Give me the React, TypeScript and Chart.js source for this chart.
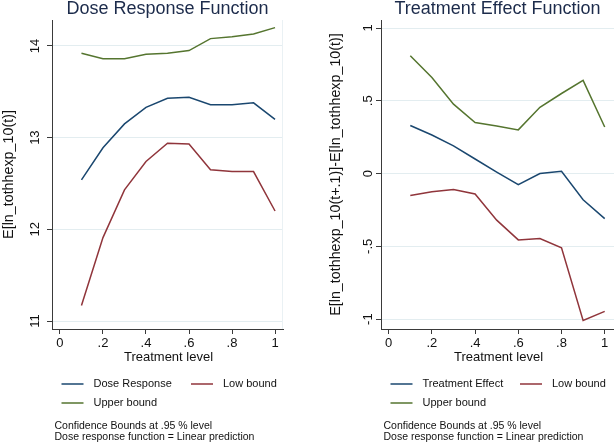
import React, { useEffect, useRef } from "react";
import { Chart, registerables } from "chart.js";

Chart.register(...registerables);

// ---- data ----
const treatmentLevels = [0.1, 0.2, 0.3, 0.4, 0.5, 0.6, 0.7, 0.8, 0.9, 1.0];

const doseResponse = [12.54, 12.89, 13.15, 13.33, 13.43, 13.44, 13.36, 13.36, 13.38, 13.2];
const doseLowBound = [11.17, 11.91, 12.43, 12.74, 12.94, 12.93, 12.65, 12.63, 12.63, 12.2];
const doseUpperBound = [13.92, 13.86, 13.86, 13.91, 13.92, 13.95, 14.08, 14.1, 14.13, 14.2];

const treatmentEffect = [0.33, 0.265, 0.19, 0.1, 0.01, -0.077, 0.0, 0.016, -0.18, -0.31];
const effectLowBound = [-0.15, -0.125, -0.11, -0.14, -0.32, -0.456, -0.447, -0.51, -1.01, -0.947];
const effectUpperBound = [0.81, 0.66, 0.477, 0.35, 0.327, 0.3, 0.455, 0.55, 0.64, 0.32];

const xTickValues = [0, 0.2, 0.4, 0.6, 0.8, 1];
const xTickLabels = ["0", ".2", ".4", ".6", ".8", "1"];
const doseYTicks = [11, 12, 13, 14];
const doseYTickLabels = ["11", "12", "13", "14"];
const effectYTicks = [-1, -0.5, 0, 0.5, 1];
const effectYTickLabels = ["-1", "-.5", "0", ".5", "1"];

const notes = ["Confidence Bounds at .95 % level", "Dose response function = Linear prediction"];

const NAVY = "#1a476f";
const MAROON = "#90353b";
const GREEN = "#55752f";
const GRID = "#e3edf0";
const AXIS = "#3a3a3a";
const FONT = "'Liberation Sans', Arial, sans-serif";

type PanelProps = {
  title: string;
  yTitle: string;
  mainLabel: string;
  main: number[];
  low: number[];
  upper: number[];
  yTicks: number[];
  yTickLabels: string[];
  xMin: number;
  xMax: number;
  yMin: number;
  yMax: number;
  plotLeft: number;
  plotRight: number;
  yTitleX: number;
  yTickLabelX: number;
  rightBorder: boolean;
};

const W = 307;
const H = 443;
const PLOT_TOP = 20;
const PLOT_BOTTOM = 329;

function Panel(p: PanelProps) {
  const ref = useRef<HTMLCanvasElement | null>(null);
  useEffect(() => {
    if (!ref.current) return;
    const mk = (vals: number[]) => treatmentLevels.map((x, i) => ({ x, y: vals[i] }));
    const extras = {
      id: "extras",
      afterDraw(chart: any) {
        const ctx = chart.ctx as CanvasRenderingContext2D;
        const ca = chart.chartArea;
        const ys = chart.scales.y;
        ctx.save();
        // right border of plot region
        if (p.rightBorder) {
          ctx.strokeStyle = "#eaf1f4";
          ctx.lineWidth = 1;
          ctx.beginPath();
          ctx.moveTo(Math.round(ca.right) - 0.5, ca.top);
          ctx.lineTo(Math.round(ca.right) - 0.5, ca.bottom);
          ctx.stroke();
        }
        // title
        ctx.fillStyle = "#1c2b4b";
        ctx.font = `18px ${FONT}`;
        ctx.textAlign = "center";
        ctx.textBaseline = "middle";
        ctx.fillText(p.title, (ca.left + ca.right) / 2, 9);
        // y tick labels (rotated)
        ctx.fillStyle = "#111";
        ctx.font = `13px ${FONT}`;
        p.yTicks.forEach((v, i) => {
          const y = ys.getPixelForValue(v);
          ctx.save();
          ctx.translate(p.yTickLabelX, y);
          ctx.rotate(-Math.PI / 2);
          ctx.textAlign = "center";
          ctx.textBaseline = "middle";
          ctx.fillText(p.yTickLabels[i], 0, 0);
          ctx.restore();
        });
        // y title
        ctx.save();
        ctx.font = `14.3px ${FONT}`;
        ctx.translate(p.yTitleX, (ca.top + ca.bottom) / 2);
        ctx.rotate(-Math.PI / 2);
        ctx.textAlign = "center";
        ctx.textBaseline = "middle";
        ctx.fillText(p.yTitle, 0, 0);
        ctx.restore();
        // x title
        ctx.font = `13px ${FONT}`;
        ctx.textAlign = "center";
        ctx.textBaseline = "middle";
        ctx.fillText("Treatment level", (ca.left + ca.right) / 2 + 1, 357);
        // legend
        const items = [
          { label: p.mainLabel, color: NAVY, col: 0, row: 0 },
          { label: "Low bound", color: MAROON, col: 1, row: 0 },
          { label: "Upper bound", color: GREEN, col: 0, row: 1 },
        ];
        ctx.font = `11px ${FONT}`;
        ctx.textAlign = "left";
        items.forEach((it) => {
          const x0 = ca.left + (it.col === 0 ? 9.5 : 139);
          const y = it.row === 0 ? 384 : 403;
          ctx.strokeStyle = it.color;
          ctx.lineWidth = 1.5;
          ctx.beginPath();
          ctx.moveTo(x0, y);
          ctx.lineTo(x0 + 22, y);
          ctx.stroke();
          ctx.fillStyle = "#111";
          ctx.fillText(it.label, x0 + 32, y);
        });
        // notes
        ctx.font = `10.5px ${FONT}`;
        ctx.fillStyle = "#111";
        notes.forEach((n, i) => {
          ctx.fillText(n, ca.left + 2.5, 426.5 + i * 10.7);
        });
        ctx.restore();
      },
    };
    const chart = new Chart(ref.current, {
      type: "line",
      data: {
        datasets: [
          { label: p.mainLabel, data: mk(p.main), borderColor: NAVY },
          { label: "Low bound", data: mk(p.low), borderColor: MAROON },
          { label: "Upper bound", data: mk(p.upper), borderColor: GREEN },
        ].map((d) => ({ ...d, borderWidth: 1.5, pointRadius: 0, tension: 0, fill: false })),
      },
      options: {
        responsive: false,
        maintainAspectRatio: false,
        animation: false,
        layout: { padding: { left: 0, right: W - p.plotRight, top: PLOT_TOP, bottom: 0 } },
        plugins: {
          legend: { display: false },
          tooltip: { enabled: false },
          title: { display: false },
        },
        scales: {
          x: {
            type: "linear",
            min: p.xMin,
            max: p.xMax,
            afterBuildTicks: (s: any) => {
              s.ticks = xTickValues.map((v) => ({ value: v }));
            },
            afterFit: (s: any) => {
              s.height = H - PLOT_BOTTOM;
            },
            grid: { drawOnChartArea: false, drawTicks: true, tickLength: 5, tickColor: AXIS, tickWidth: 1 },
            border: { display: true, color: AXIS, width: 1 },
            ticks: {
              autoSkip: false,
              maxRotation: 0,
              minRotation: 0,
              padding: 2,
              color: "#111",
              font: { family: FONT, size: 13 },
              callback: (v: any) => {
                const i = xTickValues.findIndex((t) => Math.abs(t - Number(v)) < 1e-9);
                return i >= 0 ? xTickLabels[i] : "";
              },
            },
          },
          y: {
            type: "linear",
            min: p.yMin,
            max: p.yMax,
            afterBuildTicks: (s: any) => {
              s.ticks = p.yTicks.map((v) => ({ value: v }));
            },
            afterFit: (s: any) => {
              s.width = p.plotLeft;
            },
            grid: { color: GRID, drawTicks: true, tickLength: 5, tickColor: AXIS, lineWidth: 1 },
            border: { display: true, color: AXIS, width: 1 },
            ticks: { display: false },
          },
        },
      },
      plugins: [extras],
    } as any);
    return () => chart.destroy();
  }, []);
  return <canvas ref={ref} width={W} height={H} style={{ display: "block", width: W, height: H }} />;
}

export default function App() {
  return (
    <div
      style={{
        position: "absolute",
        left: 0,
        top: 0,
        width: 614,
        height: 443,
        background: "#fff",
        display: "flex",
      }}
    >
      <Panel
        title="Dose Response Function"
        yTitle="E[ln_tothhexp_10(t)]"
        mainLabel="Dose Response"
        main={doseResponse}
        low={doseLowBound}
        upper={doseUpperBound}
        yTicks={doseYTicks}
        yTickLabels={doseYTickLabels}
        xMin={-0.037}
        xMax={1.037}
        yMin={10.913}
        yMax={14.283}
        plotLeft={52}
        plotRight={283}
        yTitleX={9}
        yTickLabelX={35}
        rightBorder={true}
      />
      <Panel
        title="Treatment Effect Function"
        yTitle="E[ln_tothhexp_10(t+.1)]-E[ln_tothhexp_10(t)]"
        mainLabel="Treatment Effect"
        main={treatmentEffect}
        low={effectLowBound}
        upper={effectUpperBound}
        yTicks={effectYTicks}
        yTickLabels={effectYTickLabels}
        xMin={-0.0356}
        xMax={1.043}
        yMin={-1.068}
        yMax={1.055}
        plotLeft={74}
        plotRight={307}
        yTitleX={29}
        yTickLabelX={61}
        rightBorder={false}
      />
    </div>
  );
}
